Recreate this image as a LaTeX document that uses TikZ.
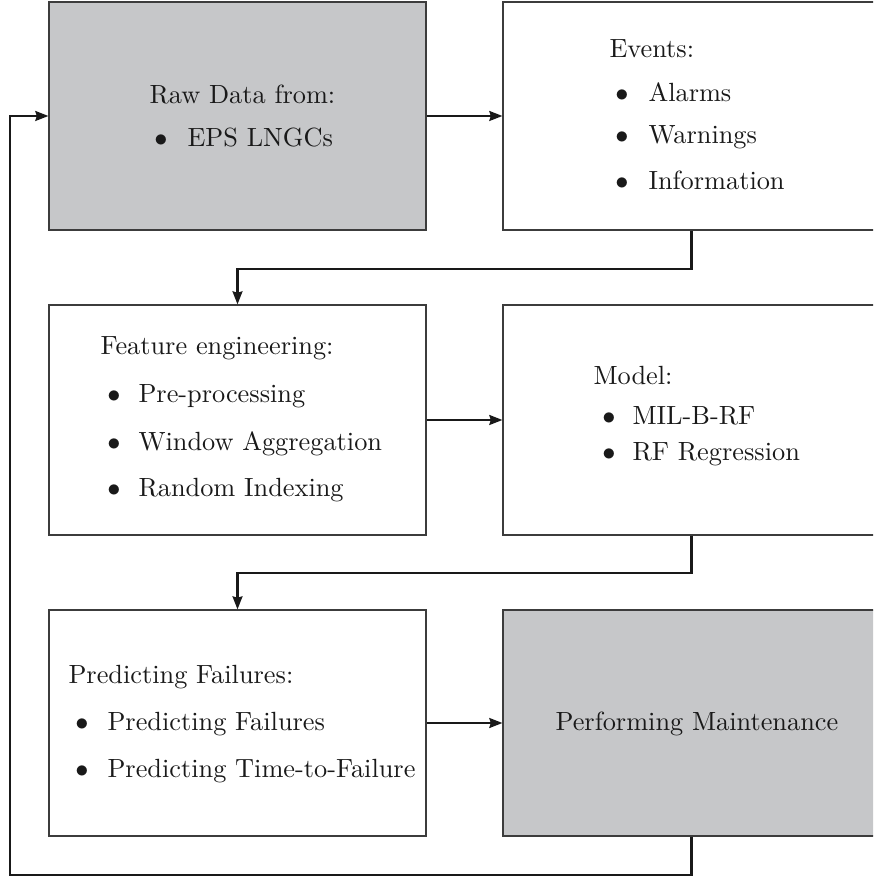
\documentclass[tikz,border=0pt]{standalone}
\usetikzlibrary{arrows.meta}
\definecolor{boxgray}{RGB}{198,199,201}
\definecolor{edge}{RGB}{60,60,60}
\begin{document}
\begin{tikzpicture}[x=0.38pt,y=-0.38pt,
  box/.style={draw=edge,line width=0.45pt,inner sep=0pt,minimum width=143.26pt},
  grayfill/.style={fill=boxgray},
  txt/.style={anchor=base west,inner sep=0pt,text=black!90},
  bul/.style={anchor=base,inner sep=0pt,text=black!90},
  arr/.style={line width=0.8pt,black!90,-{Stealth[length=5pt,width=3.8pt,inset=0.6pt]}}
]
\useasboundingbox (0,0) rectangle (873,880);
\clip (0,0) rectangle (873,880);
% boxes
\node[box,grayfill,minimum height=86.64pt] (b1) at (237.5,116) {};
\node[box,minimum height=86.64pt] (b2) at (691.5,116) {};
\node[box,minimum height=87.4pt] (b3) at (237.5,420) {};
\node[box,minimum height=87.4pt] (b4) at (691.5,420) {};
\node[box,minimum height=85.88pt] (b5) at (237.5,723) {};
\node[box,grayfill,minimum height=85.88pt] (b6) at (691.5,723) {};
% texts box 1
\node[txt] (t1a) at (149,104) {Raw Data from:};
\node[bul] (t1bb) at (161,147) {$\bullet$};
\node[txt] (t1b) at (187,147) {EPS LNGCs};
% box 2
\node[txt] (t2a) at (609,58) {Events:};
\node[bul] (t2bb) at (622,102) {$\bullet$};
\node[txt] (t2b) at (648,102) {Alarms};
\node[bul] (t2cb) at (622,144) {$\bullet$};
\node[txt] (t2c) at (648,144) {Warnings};
\node[bul] (t2db) at (622,190) {$\bullet$};
\node[txt] (t2d) at (648,190) {Information};
% box 3
\node[txt] (t3a) at (100,355) {Feature engineering:};
\node[bul] (t3bb) at (114,403) {$\bullet$};
\node[txt] (t3b) at (138,403) {Pre-processing};
\node[bul] (t3cb) at (114,450) {$\bullet$};
\node[txt] (t3c) at (138,450) {Window Aggregation};
\node[bul] (t3db) at (114,497) {$\bullet$};
\node[txt] (t3d) at (138,497) {Random Indexing};
% box 4
\node[txt] (t4a) at (593,385) {Model:};
\node[bul] (t4bb) at (609,425) {$\bullet$};
\node[txt] (t4b) at (632,425) {MIL-B-RF};
\node[bul] (t4cb) at (609,461) {$\bullet$};
\node[txt] (t4c) at (632,461) {RF Regression};
% box 5
\node[txt] (t5a) at (68,683) {Predicting Failures:};
\node[bul] (t5bb) at (82,730) {$\bullet$};
\node[txt] (t5b) at (107,730) {Predicting Failures};
\node[bul] (t5cb) at (82,777) {$\bullet$};
\node[txt] (t5c) at (107,777) {Predicting Time-to-Failure};
% box 6
\node[txt] (t6a) at (555,730) {Performing Maintenance};
% connectors
\draw[arr] (b1.east) -- (b2.west);
\draw[arr] (b3.east) -- (b4.west);
\draw[arr] (b5.east) -- (b6.west);
\draw[arr] (b2.south) -- ++(0,38) -| (b3.north);
\draw[arr] (b4.south) -- ++(0,37) -| (b5.north);
\coordinate (loop) at (10,875);
\draw[arr] (b6.south) |- (loop) |- (b1.west);
\end{tikzpicture}
\end{document}
